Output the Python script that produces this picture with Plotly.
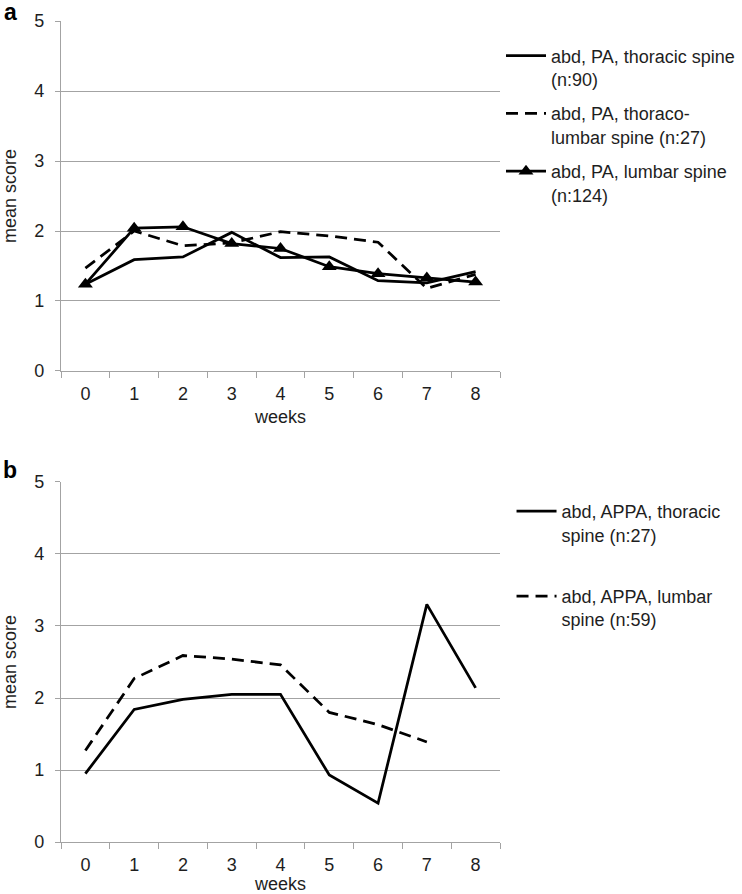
import plotly.graph_objects as go

weeks = ["0", "1", "2", "3", "4", "5", "6", "7", "8"]

# panel a
a_thoracic = [1.24, 1.59, 1.63, 1.98, 1.62, 1.63, 1.29, 1.26, 1.42]
a_thoracolumbar = [1.47, 2.00, 1.79, 1.83, 1.99, 1.93, 1.84, 1.18, 1.38]
a_lumbar = [1.24, 2.04, 2.06, 1.82, 1.75, 1.49, 1.39, 1.33, 1.27]

# panel b
b_thoracic = [0.95, 1.84, 1.98, 2.05, 2.05, 0.93, 0.54, 3.30, 2.14]
b_lumbar = [1.27, 2.27, 2.59, 2.54, 2.46, 1.80, 1.63, 1.39, None]

y_ticks = [0, 1, 2, 3, 4, 5]

FONT = "Liberation Sans, Arial, sans-serif"
TXT = "#1e1e1e"
GRID = "#a3a3a3"
LW = 2.75
DASH = "12px,7px"
FS = 18

fig = go.Figure()

fig.add_trace(go.Scatter(x=weeks, y=a_thoracic, mode="lines",
                         line=dict(color="black", width=LW),
                         name="abd, PA, thoracic spine<br>(n:90)",
                         legend="legend", legendgroup="a1",
                         xaxis="x", yaxis="y"))
fig.add_trace(go.Scatter(x=weeks, y=a_thoracolumbar, mode="lines",
                         line=dict(color="black", width=LW, dash=DASH),
                         name="abd, PA, thoraco-<br>lumbar spine (n:27)",
                         legend="legend", legendgroup="a2",
                         xaxis="x", yaxis="y"))
fig.add_trace(go.Scatter(x=weeks, y=a_lumbar, mode="lines+markers",
                         line=dict(color="black", width=LW),
                         marker=dict(symbol="triangle-up", size=13, color="black"),
                         name="abd, PA, lumbar spine<br>(n:124)",
                         legend="legend", legendgroup="a3",
                         xaxis="x", yaxis="y"))

fig.add_trace(go.Scatter(x=weeks, y=b_thoracic, mode="lines",
                         line=dict(color="black", width=LW),
                         name="abd, APPA, thoracic<br>spine (n:27)",
                         legend="legend2", legendgroup="b1",
                         xaxis="x2", yaxis="y2"))
fig.add_trace(go.Scatter(x=weeks, y=b_lumbar, mode="lines",
                         line=dict(color="black", width=LW, dash=DASH),
                         name="abd, APPA, lumbar<br>spine (n:59)",
                         legend="legend2", legendgroup="b2",
                         xaxis="x2", yaxis="y2"))

xcommon = dict(type="category", categoryorder="array", categoryarray=weeks,
               range=[-0.5, 8.5], autorange=False, automargin=False,
               tickson="boundaries", ticks="outside", ticklen=6, tickcolor=GRID,
               ticklabelstandoff=6,
               showline=True, linecolor=GRID, linewidth=1.3, showgrid=False,
               zeroline=False, tickfont=dict(size=FS, color=TXT, family=FONT),
               title=dict(text="weeks", font=dict(size=FS, color=TXT, family=FONT),
                          standoff=7))
ycommon = dict(range=[0, 5], tickvals=y_ticks, showgrid=True, gridcolor=GRID,
               gridwidth=1.3, showline=True, linecolor=GRID, linewidth=1.3,
               ticks="outside", ticklen=5, tickcolor=GRID, zeroline=False,
               ticklabelstandoff=7, automargin=False,
               tickfont=dict(size=FS, color=TXT, family=FONT),
               title=dict(text="mean score", font=dict(size=FS, color=TXT, family=FONT),
                          standoff=21))

fig.update_layout(
    width=742, height=894,
    margin=dict(l=61, r=242, t=21, b=52, autoexpand=False),
    paper_bgcolor="white", plot_bgcolor="white",
    font=dict(family=FONT, size=FS, color=TXT),
    xaxis=dict(domain=[0, 1], anchor="y", **xcommon),
    yaxis=dict(domain=[0.5737, 1.0], anchor="x", **ycommon),
    xaxis2=dict(domain=[0, 1], anchor="y2", **xcommon),
    yaxis2=dict(domain=[0.0, 0.4385], anchor="x2", **ycommon),
    legend=dict(xref="container", yref="container", x=0.6752, y=0.9582,
                xanchor="left", yanchor="top",
                font=dict(size=FS, color=TXT, family=FONT),
                tracegroupgap=8, itemwidth=40, valign="top",
                bgcolor="rgba(0,0,0,0)"),
    legend2=dict(xref="container", yref="container", x=0.6894, y=0.4485,
                 xanchor="left", yanchor="top",
                 font=dict(size=FS, color=TXT, family=FONT),
                 tracegroupgap=35, itemwidth=40, valign="top",
                 bgcolor="rgba(0,0,0,0)"),
    showlegend=True,
    annotations=[
        dict(text="<b>a</b>", xref="paper", yref="paper", x=-0.116, y=1.011,
             xanchor="center", yanchor="middle", showarrow=False,
             font=dict(size=23, color="black", family=FONT)),
        dict(text="<b>b</b>", xref="paper", yref="paper", x=-0.116, y=0.453,
             xanchor="center", yanchor="middle", showarrow=False,
             font=dict(size=23, color="black", family=FONT)),
    ],
)

fig.write_html("out.html", config={"displayModeBar": False},
               post_script="document.body.style.margin='0px';")
